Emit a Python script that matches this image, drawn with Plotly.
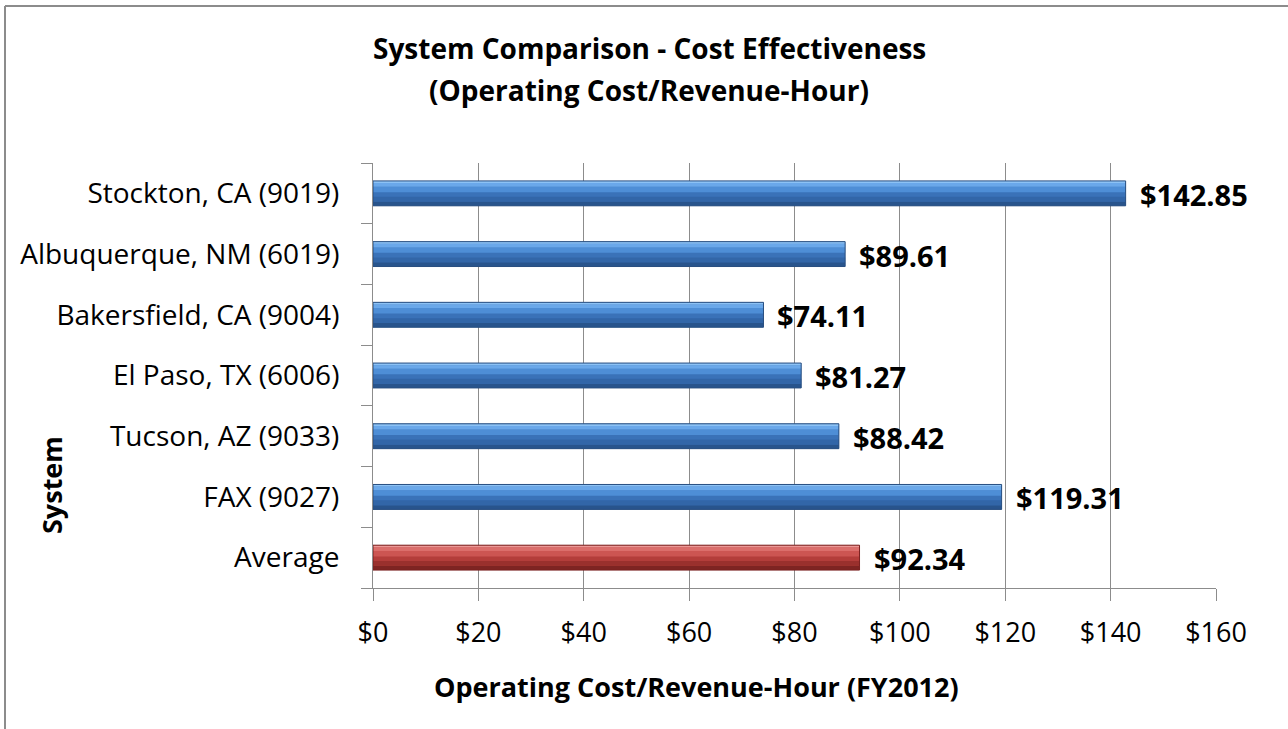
import plotly.graph_objects as go

# ---- data (bottom to top order as drawn) ----
systems = ["Average", "FAX (9027)", "Tucson, AZ (9033)", "El Paso, TX (6006)",
           "Bakersfield, CA (9004)", "Albuquerque, NM (6019)", "Stockton, CA (9019)"]
cost_per_hour = [92.34, 119.31, 88.42, 81.27, 74.11, 89.61, 142.85]
x_ticks = [0, 20, 40, 60, 80, 100, 120, 140, 160]
x_tick_labels = ["$0", "$20", "$40", "$60", "$80", "$100", "$120", "$140", "$160"]
title_lines = ["System Comparison - Cost Effectiveness", "(Operating Cost/Revenue-Hour)"]

is_avg = [s == "Average" for s in systems]

# gradient bands (offset, width, blue colour, red colour), bottom to top
bands = [
    (-0.205, 0.41, "#3A72B8", "#B33D3A"),
    (-0.205, 0.07, "#28548C", "#7E2422"),
    (-0.135, 0.08, "#3266A8", "#9A302D"),
    (0.02, 0.09, "#4E8ED6", "#CC5552"),
    (0.11, 0.06, "#6AA8EA", "#DB6E6B"),
    (0.17, 0.035, "#8CC2F5", "#EC9896"),
]
edge_col = ["#7A2221" if a else "#294F80" for a in is_avg]

W, H = 1288, 729
L, R, T, B = 373, 1216, 163, 588


def px(x):
    return (x - L) / (R - L)


def py(y):
    return (B - y) / (B - T)


FONT = "'Open Sans', sans-serif"

fig = go.Figure()
for i, (off, wid, blue, red) in enumerate(bands):
    cols = [red if a else blue for a in is_avg]
    fig.add_trace(go.Bar(x=cost_per_hour, y=systems, orientation="h",
                         width=wid, offset=off,
                         marker=dict(color=cols, line=dict(width=0)),
                         hoverinfo="skip"))
# outline on top
fig.add_trace(go.Bar(x=cost_per_hour, y=systems, orientation="h",
                     width=0.41, offset=-0.205,
                     marker=dict(color="rgba(0,0,0,0)", line=dict(color=edge_col, width=1)),
                     hoverinfo="skip"))

annotations = []
for s, v in zip(systems, cost_per_hour):
    annotations.append(dict(x=v, y=s, xref="x", yref="y", text=f"${v:,.2f}",
                            xanchor="left", yanchor="middle", xshift=12, yshift=-1, showarrow=False,
                            font=dict(family=FONT, size=29, color="#000000", weight="bold")))

for line_text, ypix in zip(title_lines, [48, 90]):
    annotations.append(dict(x=px(649), y=py(ypix), xref="paper", yref="paper",
                            text=f"<b>{line_text}</b>",
                            showarrow=False, xanchor="center", yanchor="middle",
                            font=dict(family=FONT, size=28, color="#000000")))
annotations.append(dict(x=px(696), y=py(686), xref="paper", yref="paper",
                        text="<b>Operating Cost/Revenue-Hour (FY2012)</b>",
                        showarrow=False, xanchor="center", yanchor="middle",
                        font=dict(family=FONT, size=27, color="#000000")))
annotations.append(dict(x=px(51), y=py(485), xref="paper", yref="paper",
                        text="<b>System</b>", textangle=-90,
                        showarrow=False, xanchor="center", yanchor="middle",
                        font=dict(family=FONT, size=27, color="#000000")))

shapes = [
    dict(type="line", xref="paper", yref="paper", x0=px(5), x1=px(5), y0=py(740), y1=py(6),
         line=dict(color="#8C8C8C", width=2)),
    dict(type="line", xref="paper", yref="paper", x0=px(5), x1=px(1300), y0=py(6), y1=py(6),
         line=dict(color="#8C8C8C", width=2)),
]

fig.update_layout(
    width=W, height=H,
    margin=dict(l=L, r=W - R, t=T, b=H - B, pad=0),
    paper_bgcolor="white", plot_bgcolor="white",
    barmode="overlay", showlegend=False,
    font=dict(family=FONT, size=28, color="#000000"),
    annotations=annotations, shapes=shapes,
    xaxis=dict(range=[0, 160], tickvals=x_ticks, ticktext=x_tick_labels,
               showgrid=True, gridcolor="#8C8C8C", gridwidth=1,
               showline=True, linecolor="#8C8C8C", linewidth=1,
               ticks="outside", ticklen=12, tickcolor="#8C8C8C",
               ticklabelstandoff=9, zeroline=False,
               tickfont=dict(family=FONT, size=27)),
    yaxis=dict(type="category", categoryorder="array", categoryarray=systems,
               showgrid=False, showline=True, linecolor="#8C8C8C", linewidth=1,
               ticks="outside", ticklen=11, tickcolor="#8C8C8C", tickson="boundaries",
               ticklabelstandoff=27, mirror=False,
               tickfont=dict(family=FONT, size=28)),
)

fig.write_html("out.html", post_script="document.body.style.margin='0';",
               config={"displayModeBar": False})
